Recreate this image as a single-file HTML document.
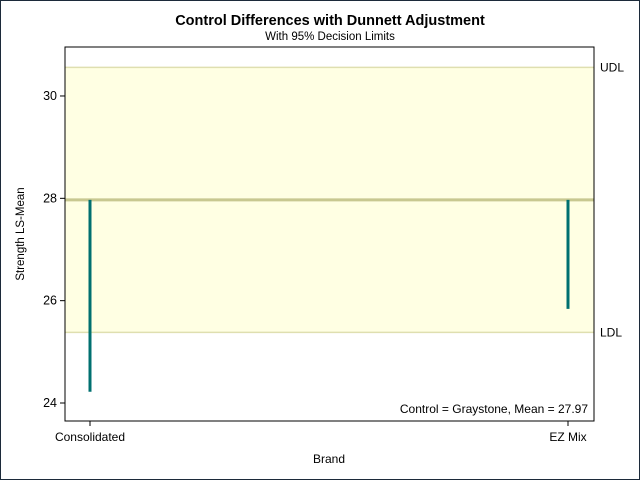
<!DOCTYPE html>
<html><head><meta charset="utf-8"><style>
body{margin:0;background:#fff}
svg text{font-family:"Liberation Sans",sans-serif;fill:#000}
</style></head><body>
<svg width="640" height="480" xmlns="http://www.w3.org/2000/svg">
<rect x="0.5" y="0.5" width="639" height="479" fill="#fff" stroke="#1c2a3a"/>
<text x="330" y="25" text-anchor="middle" font-size="14.5" font-weight="bold">Control Differences with Dunnett Adjustment</text>
<text x="330" y="40" text-anchor="middle" font-size="11.5">With 95% Decision Limits</text>
<g id="plot"></g>
<text x="24" y="234" text-anchor="middle" font-size="11.5" transform="rotate(-90 24 234)">Strength LS-Mean</text>
<text x="329" y="463" text-anchor="middle" font-size="12">Brand</text>
</svg>
<script>
const categories=["Consolidated","EZ Mix"];
const values=[24.22,25.84];
const controlMean=27.97;
const udl=30.56, ldl=25.38;
const yTicks=[24,26,28,30];
const L=65,R=594,T=47,B=421;
const y=v=>403-(v-24)*51.17;
const xPos=i=>90+i*(568-90)/(categories.length-1);
const g=document.getElementById('plot');
const NS='http://www.w3.org/2000/svg';
function mk(tag,attrs,name,txt){const e=document.createElementNS(NS,tag);for(const k in attrs)e.setAttribute(k,attrs[k]);


if(txt!==undefined)e.textContent=txt;g.appendChild(e);return e;}
mk('rect',{x:L,y:y(udl),width:R-L,height:y(ldl)-y(udl),fill:'#ffffe3'},'decision-band');
mk('line',{x1:L,x2:R,y1:y(udl),y2:y(udl),stroke:'#dfdfb0','stroke-width':1.5},'udl-line');
mk('line',{x1:L,x2:R,y1:y(ldl),y2:y(ldl),stroke:'#dfdfb0','stroke-width':1.5},'ldl-line');
mk('line',{x1:L,x2:R,y1:y(controlMean),y2:y(controlMean),stroke:'#c8c890','stroke-width':3},'control-mean-line');
categories.forEach((c,i)=>{
 mk('line',{x1:xPos(i),x2:xPos(i),y1:y(controlMean),y2:y(values[i]),stroke:'#007070','stroke-width':3},'bar-'+c.toLowerCase().replace(/\s+/g,'-'));
 mk('line',{x1:xPos(i),x2:xPos(i),y1:B,y2:B+5,stroke:'#000'},'x-tick');
 mk('text',{x:xPos(i),y:B+20,'text-anchor':'middle','font-size':12},'x-tick-label',c);
});
yTicks.forEach(t=>{
 mk('line',{x1:L-5,x2:L,y1:y(t),y2:y(t),stroke:'#000'},'y-tick');
 mk('text',{x:L-8,y:y(t)+4,'text-anchor':'end','font-size':12.5},'y-tick-label',t);
});
mk('rect',{x:L,y:T,width:R-L,height:B-T,fill:'none',stroke:'#000'},'plot-frame');
mk('text',{x:R+6,y:y(udl)+4,'font-size':12},'udl-label','UDL');
mk('text',{x:R+6,y:y(ldl)+4,'font-size':12},'ldl-label','LDL');
mk('text',{x:R-6,y:B-8,'text-anchor':'end','font-size':12},'control-note','Control = Graystone, Mean = '+controlMean);
</script>
</body></html>
